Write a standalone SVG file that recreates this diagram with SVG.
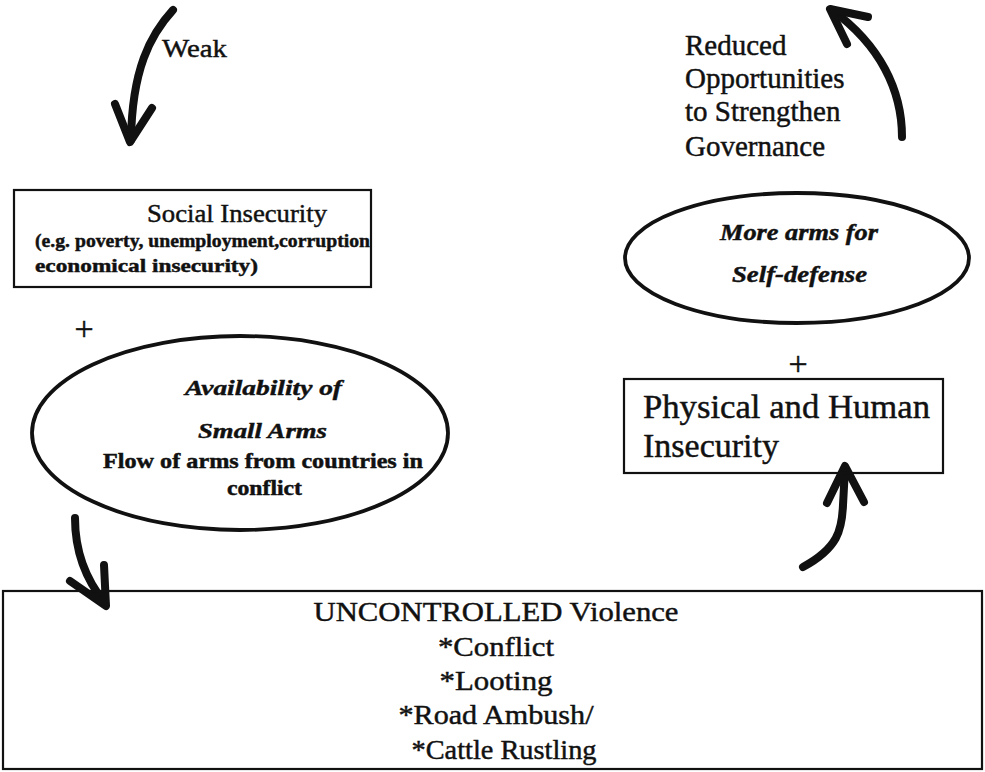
<svg xmlns="http://www.w3.org/2000/svg" width="985" height="772" viewBox="0 0 985 772">
<style>
.bg{fill:#fff}
.box{fill:none;stroke:#111;stroke-width:2.2}
.ell{fill:none;stroke:#111;stroke-width:3.8}
.t{font-family:"Liberation Serif","Times New Roman",serif;fill:#111;stroke:#111;stroke-width:0.45}
.b{font-weight:bold}
.bi{font-weight:bold;font-style:italic}
.arr{fill:none;stroke:#111;stroke-width:8;stroke-linecap:round;stroke-linejoin:round}
</style>
<rect class="bg" x="0" y="0" width="985" height="772"/>
<g id="connectors">
<path class="arr" d="M173,10 C150,35 132,70 131,140"/>
<path class="arr" d="M115,104 L130,142 L152,108"/>
<path class="arr" d="M902,137 C902,90 880,45 832,10"/>
<path class="arr" d="M847,44 L830,9 L868,17"/>
<path class="arr" d="M75,518 C75,545 82,575 105,603"/>
<path class="arr" d="M70,581 L106,606 L104,565"/>
<path class="arr" d="M803,567 C838,548 842,530 843,505 L845,468"/>
<path class="arr" d="M827,503 L845,466 L864,502"/>
<text class="t" x="162" y="57" font-size="26" textLength="65" lengthAdjust="spacingAndGlyphs">Weak</text>
<text class="t" font-size="29">
<tspan x="685" y="55">Reduced</tspan>
<tspan x="685" y="88">Opportunities</tspan>
<tspan x="685" y="121">to Strengthen</tspan>
<tspan x="685" y="156">Governance</tspan>
</text>
<text class="t" x="84" y="340" font-size="34" text-anchor="middle">+</text>
<text class="t" x="798" y="375" font-size="34" text-anchor="middle">+</text>
</g>
<g id="social-insecurity">
<rect class="box" x="14" y="190" width="357" height="97"/>
<text class="t" x="147" y="222" font-size="26" textLength="180" lengthAdjust="spacingAndGlyphs">Social Insecurity</text>
<text class="t b" x="35" y="247" font-size="19" textLength="335" lengthAdjust="spacingAndGlyphs">(e.g. poverty, unemployment,corruption</text>
<text class="t b" x="35" y="272" font-size="19" textLength="223" lengthAdjust="spacingAndGlyphs">economical insecurity)</text>
</g>
<g id="more-arms">
<ellipse class="ell" cx="797" cy="258" rx="172" ry="65"/>
<text class="t bi" x="720" y="240" font-size="23" textLength="158" lengthAdjust="spacingAndGlyphs">More arms for</text>
<text class="t bi" x="732" y="282" font-size="23" textLength="135" lengthAdjust="spacingAndGlyphs">Self-defense</text>
</g>
<g id="availability">
<ellipse class="ell" cx="240" cy="433" rx="208" ry="97"/>
<text class="t bi" x="185" y="395" font-size="22" textLength="157" lengthAdjust="spacingAndGlyphs">Availability of</text>
<text class="t bi" x="198" y="438" font-size="22" textLength="129" lengthAdjust="spacingAndGlyphs">Small Arms</text>
<text class="t b" x="103" y="468" font-size="20" textLength="320" lengthAdjust="spacingAndGlyphs">Flow of arms from countries in</text>
<text class="t b" x="227" y="495" font-size="20" textLength="75" lengthAdjust="spacingAndGlyphs">conflict</text>
</g>
<g id="physical-insecurity">
<rect class="box" x="624" y="379" width="319" height="94"/>
<text class="t" x="643" y="418" font-size="34" textLength="287" lengthAdjust="spacingAndGlyphs">Physical and Human</text>
<text class="t" x="643" y="457" font-size="34">Insecurity</text>
</g>
<g id="uncontrolled-violence">
<rect class="box" x="3" y="591" width="979" height="178"/>
<text class="t" x="496" y="621" font-size="27" text-anchor="middle" textLength="365" lengthAdjust="spacingAndGlyphs">UNCONTROLLED Violence</text>
<text class="t" x="496" y="656" font-size="27" text-anchor="middle" textLength="116" lengthAdjust="spacingAndGlyphs">*Conflict</text>
<text class="t" x="496" y="690" font-size="27" text-anchor="middle" textLength="113" lengthAdjust="spacingAndGlyphs">*Looting</text>
<text class="t" x="496" y="724" font-size="27" text-anchor="middle" textLength="195" lengthAdjust="spacingAndGlyphs">*Road Ambush/</text>
<text class="t" x="504" y="759" font-size="27" text-anchor="middle" textLength="185" lengthAdjust="spacingAndGlyphs">*Cattle Rustling</text>
</g>
</svg>
